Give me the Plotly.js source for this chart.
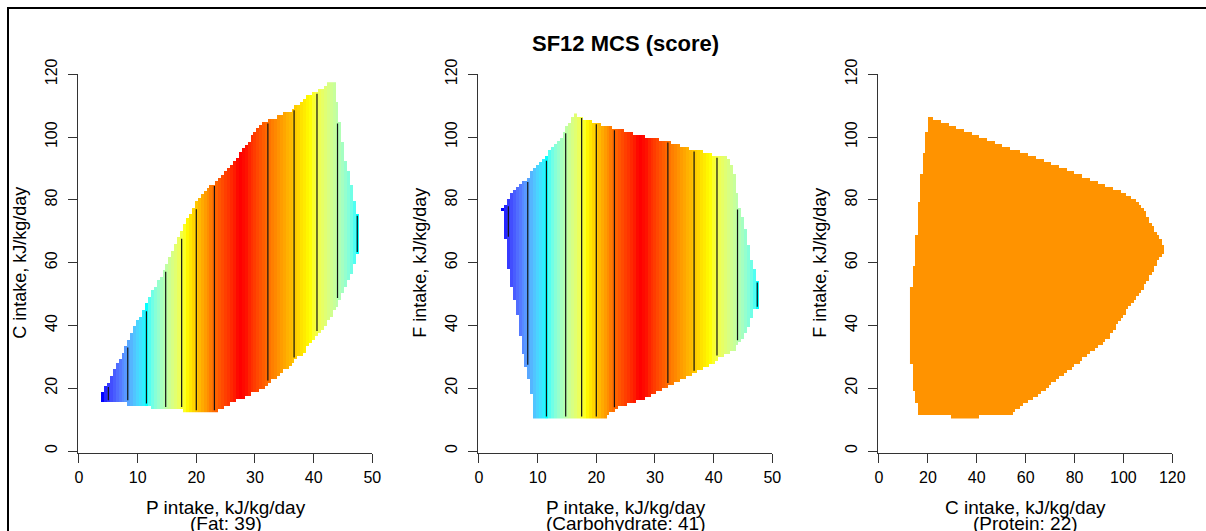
<!DOCTYPE html>
<html><head><meta charset="utf-8">
<script src="https://cdn.plot.ly/plotly-3.0.1.min.js"></script>
<style>html,body{margin:0;padding:0;background:#fff;} #chart{width:1206px;height:531px;}</style>
</head><body><div id="chart"></div>
<script>
// ================= DATA =================
const chartTitle = "SF12 MCS (score)";
const xTitles = ["P intake, kJ/kg/day", "P intake, kJ/kg/day", "C intake, kJ/kg/day"];
const xSubTitles = ["(Fat: 39)", "(Carbohydrate: 41)", "(Protein: 22)"];
const yTitles = ["C intake, kJ/kg/day", "F intake, kJ/kg/day", "F intake, kJ/kg/day"];
const xTicksP = [0, 10, 20, 30, 40, 50];
const xTicksC = [0, 20, 40, 60, 80, 100, 120];
const yTicks = [0, 20, 40, 60, 80, 100, 120];

// fitted SF12 MCS along the protein grid P = 4.0, 4.5, ... 47.5 (surface varies with P only)
const pGridStart = 4.0, pGridStep = 0.5;
const mcsByP = [46.85,46.92,47.00,47.08,47.15,47.23,47.30,47.38,47.45,47.53,
  47.61,47.69,47.77,47.84,47.92,48.00,48.08,48.15,48.23,48.30,
  48.38,48.45,48.54,48.63,48.72,48.81,48.91,49.00,49.10,49.20,
  49.30,49.40,49.50,49.58,49.67,49.75,49.83,49.92,49.99,50.05,
  50.10,50.14,50.18,50.21,50.24,50.26,50.28,50.29,50.28,50.27,
  50.25,50.22,50.19,50.15,50.11,50.07,50.02,49.97,49.91,49.86,
  49.80,49.74,49.69,49.63,49.58,49.52,49.46,49.40,49.33,49.27,
  49.20,49.14,49.08,49.01,48.94,48.87,48.80,48.73,48.66,48.59,
  48.51,48.44,48.37,48.29,48.22,48.15,48.07,47.99];
// third panel (protein fixed at 22): flat surface
const mcsProtein22 = 49.80;
const contourLevels = [47.0, 47.5, 48.0, 48.5, 49.0, 49.5, 50.0];

// grids of the other axes
const cGridStart = 13.0, cGridStep = 1.05, cGridN = 100;   // C, panel 1 (y)
const fGridStart = 11.0, fGridStep = 0.97, fGridN = 100;   // F, panels 2 & 3 (y)
const c3GridStart = 13.2, c3GridStep = 1.05, c3GridN = 100; // C, panel 3 (x)

// outline of the observed intake region in each panel
const hull1P = [3.7, 8.25, 12.25, 17.75, 23.4, 25.7, 28.5, 31.1, 34.8, 37.9, 41.1, 43.9, 45.6, 46.9, 47.8,
  47.8, 47.2, 46.3, 45.6, 44.3, 43.5, 43.0, 39.4, 36.0, 32.0, 30.6, 26.3, 23.5, 20.6, 18.4, 14.9, 11.5, 8.0, 3.7];
const hull1C = [15.7, 15.1, 14.05, 13.0, 12.4, 15.0, 17.6, 19.6, 25.3, 30.6, 37.5, 46.0, 52.3, 59.2, 65.0,
  73.0, 77.3, 86.8, 91.6, 107.0, 117.5, 117.5, 113.6, 108.3, 105.2, 103.0, 92.0, 86.2, 81.3, 74.0, 59.0, 47.5, 33.3, 17.6];

const hull2P = [9.6, 21.4, 22.3, 23.7, 25.7, 28.3, 30.6, 32.6, 34.7, 37.7, 39.9, 41.9, 43.5, 45.1, 46.2, 46.9, 47.8,
  47.8, 47.2, 46.5, 45.9, 45.2, 44.2, 43.5, 42.8, 42.2, 40.2, 37.8, 35.2, 33.4, 30.9, 28.3, 25.7, 23.7, 21.2, 18.9,
  17.2, 16.5, 15.8, 14.9, 13.8, 12.6, 11.5, 10.4, 9.1, 8.3, 6.9, 6.1, 5.5, 4.8, 3.7, 3.7, 4.25, 4.3, 4.8, 5.0,
  5.5, 6.1, 6.7, 7.1, 7.6, 8.4, 9.1, 9.1];
const hull2F = [10.6, 10.6, 12.1, 13.7, 15.3, 16.9, 19.0, 21.1, 23.3, 25.9, 28.0, 30.7, 32.3, 36.0, 40.2, 45.0, 46.3,
  52.3, 56.6, 60.8, 66.7, 73.0, 79.4, 88.4, 91.6, 93.9, 94.2, 95.5, 96.6, 98.0, 99.2, 100.1, 101.6, 102.8, 104.0, 105.3,
  106.7, 107.2, 106.0, 102.8, 99.6, 97.4, 94.3, 92.1, 89.5, 86.8, 85.2, 83.6, 82.0, 79.4, 77.3, 76.6, 76.5, 70.5, 64.1, 58.3,
  52.4, 47.7, 41.3, 35.5, 30.1, 23.8, 17.4, 11.6];

const hull3C = [20.2, 100.0, 103.8, 108.2, 110.5, 113.7, 117.2, 114.3, 110.6, 106.3, 101.3, 97.9, 93.8, 87.4, 79.8,
  72.7, 65.2, 59.1, 53.6, 41.3, 41.0, 30.0, 29.7, 16.1, 15.4, 14.1, 12.7, 12.7, 14.1, 15.2, 16.1, 17.2, 18.6, 20.2];
const hull3F = [106.6, 82.5, 80.5, 77.0, 73.5, 69.0, 64.5, 61.0, 55.5, 49.5, 45.0, 41.0, 35.8, 32.0, 27.2,
  22.8, 18.0, 14.8, 11.6, 11.5, 10.6, 10.6, 11.5, 11.6, 15.0, 19.4, 33.2, 48.6, 58.0, 67.6, 77.2, 86.8, 96.4, 106.6];

// ================= helpers =================
function inside(x, y, px, py) {
  let c = false;
  for (let i = 0, j = px.length - 1; i < px.length; j = i++) {
    if (((py[i] > y) !== (py[j] > y)) && (x < (px[j] - px[i]) * (y - py[i]) / (py[j] - py[i]) + px[i])) c = !c;
  }
  return c;
}
function buildGrid(nx, x0, dx, ny, y0, dy, colVal, hx, hy) {
  const z = [];
  for (let j = 0; j < ny; j++) {
    const row = [];
    const y = y0 + j * dy;
    for (let i = 0; i < nx; i++) {
      const x = x0 + i * dx;
      row.push(inside(x, y, hx, hy) ? colVal(i) : null);
    }
    z.push(row);
  }
  return z;
}
// colour ramp blue-cyan-yellow-red interpolated in CIE Lab (as R colorRampPalette(space="Lab"))
function s2l(c) { return c <= 0.04045 ? c / 12.92 : Math.pow((c + 0.055) / 1.055, 2.4); }
function l2s(c) { return c <= 0.0031308 ? 12.92 * c : 1.055 * Math.pow(c, 1 / 2.4) - 0.055; }
const WP = [0.95047, 1.0, 1.08883];
function rgb2lab(rgb) {
  const [r, g, b] = rgb.map(s2l);
  const X = 0.4124 * r + 0.3576 * g + 0.1805 * b, Y = 0.2126 * r + 0.7152 * g + 0.0722 * b, Z = 0.0193 * r + 0.1192 * g + 0.9505 * b;
  const f = t => t > 0.008856 ? Math.cbrt(t) : 7.787 * t + 16 / 116;
  const fx = f(X / WP[0]), fy = f(Y / WP[1]), fz = f(Z / WP[2]);
  return [116 * fy - 16, 500 * (fx - fy), 200 * (fy - fz)];
}
function lab2rgb(lab) {
  const fy = (lab[0] + 16) / 116, fx = fy + lab[1] / 500, fz = fy - lab[2] / 200;
  const fi = t => t > 0.206893 ? t * t * t : (t - 16 / 116) / 7.787;
  const X = WP[0] * fi(fx), Y = WP[1] * fi(fy), Z = WP[2] * fi(fz);
  const r = 3.2406 * X - 1.5372 * Y - 0.4986 * Z, g = -0.9689 * X + 1.8758 * Y + 0.0415 * Z, b = 0.0557 * X - 0.2040 * Y + 1.0570 * Z;
  return [r, g, b].map(v => Math.round(255 * Math.min(1, Math.max(0, l2s(Math.min(1, Math.max(0, v)))))));
}
const anchors = [[0, 0, 1], [0, 1, 1], [1, 1, 0], [1, 0, 0]].map(rgb2lab);
const colorscale = [];
const NS = 90;
for (let k = 0; k <= NS; k++) {
  const t = k / NS, seg = Math.min(2, Math.floor(t * 3)), u = t * 3 - seg;
  const a = anchors[seg], b = anchors[seg + 1];
  const c = lab2rgb([0, 1, 2].map(q => a[q] + (b[q] - a[q]) * u));
  colorscale.push([t, `rgb(${c[0]},${c[1]},${c[2]})`]);
}
const zmin = Math.min(...mcsByP), zmax = Math.max(...mcsByP);

// grids
const nP = mcsByP.length;
const z1 = buildGrid(nP, pGridStart, pGridStep, cGridN, cGridStart, cGridStep, i => mcsByP[i], hull1P, hull1C);
const z2 = buildGrid(nP, pGridStart, pGridStep, fGridN, fGridStart, fGridStep, i => mcsByP[i], hull2P, hull2F);
const z3 = buildGrid(c3GridN, c3GridStart, c3GridStep, fGridN, fGridStart, fGridStep, () => mcsProtein22, hull3C, hull3F);

// contour segments (vertical, as the surface varies with P only)
function contourLines(z, y0, dy) {
  const ny = z.length, xs = [], ys = [];
  const colRange = i => {
    let lo = null, hi = null;
    for (let j = 0; j < ny; j++) if (z[j][i] !== null) { if (lo === null) lo = j; hi = j; }
    return [lo, hi];
  };
  contourLevels.forEach(L => {
    for (let i = 0; i < nP - 1; i++) {
      const a = mcsByP[i], b = mcsByP[i + 1];
      const up = a < L && b >= L, down = a >= L && b < L;
      if (!(up || down)) continue;
      const x = pGridStart + (i + (L - a) / (b - a)) * pGridStep;
      const r1 = colRange(i), r2 = colRange(i + 1);
      if (r1[0] === null || r2[0] === null) continue;
      const lo = Math.max(r1[0], r2[0]), hi = Math.min(r1[1], r2[1]);
      if (hi < lo) continue;
      xs.push(x, x, null); ys.push(y0 + lo * dy, y0 + hi * dy, null);
    }
  });
  return {xs, ys};
}
const cl1 = contourLines(z1, cGridStart, cGridStep);
const cl2 = contourLines(z2, fGridStart, fGridStep);

const FONT = "Liberation Sans, Arial, Helvetica, sans-serif";
const hm = (z, x0, dx, y0, dy, xa, ya) => ({
  type: 'heatmap', z, x0, dx, y0, dy, xaxis: xa, yaxis: ya, colorscale, zmin, zmax,
  showscale: false, zsmooth: false, hoverinfo: 'skip'
});
const ln = (c, xa, ya) => ({
  type: 'scatter', mode: 'lines', x: c.xs, y: c.ys, xaxis: xa, yaxis: ya,
  line: {color: '#111', width: 1.2}, hoverinfo: 'skip', showlegend: false
});
const data = [
  hm(z1, pGridStart, pGridStep, cGridStart, cGridStep, 'x', 'y'),
  ln(cl1, 'x', 'y'),
  hm(z2, pGridStart, pGridStep, fGridStart, fGridStep, 'x2', 'y2'),
  ln(cl2, 'x2', 'y2'),
  hm(z3, c3GridStart, c3GridStep, fGridStart, fGridStep, 'x3', 'y3')
];

const W = 1206, H = 531;
const axBase = {
  showline: true, linecolor: '#333', linewidth: 1, ticks: 'outside', ticklen: 9, tickwidth: 1, tickcolor: '#333',
  showgrid: false, zeroline: false, tickfont: {family: FONT, size: 16, color: '#000'}, fixedrange: true
};
const xax = (dom, range, tv, anchor) => Object.assign({}, axBase, {domain: dom, range, tickmode: 'array', tickvals: tv, anchor, ticklabelstandoff: 0});
const yax = (anchor) => Object.assign({}, axBase, {domain: [0.146234, 0.860075], range: [-0.75, 120], tickmode: 'array', tickvals: yTicks, tickangle: -90, anchor, ticklabelstandoff: 4});

const xCentres = [225.65, 625.65, 1025.65];
const yTitleX = [20, 420, 820];
const annotations = [];
for (let p = 0; p < 3; p++) {
  annotations.push({xref: 'paper', yref: 'paper', x: xCentres[p] / W, y: 1 - 507 / H, text: xTitles[p], showarrow: false,
    xanchor: 'center', yanchor: 'middle', font: {family: FONT, size: 19, color: '#000'}});
  annotations.push({xref: 'paper', yref: 'paper', x: xCentres[p] / W, y: 1 - 523 / H, text: xSubTitles[p], showarrow: false,
    xanchor: 'center', yanchor: 'middle', font: {family: FONT, size: 19, color: '#000'}});
  annotations.push({xref: 'paper', yref: 'paper', x: yTitleX[p] / W, y: 1 - 262.7 / H, text: yTitles[p], showarrow: false,
    textangle: -90, xanchor: 'center', yanchor: 'middle', font: {family: FONT, size: 18, color: '#000'}});
}
annotations.push({xref: 'paper', yref: 'paper', x: 625 / W, y: 1 - 44 / H, text: '<b>' + chartTitle + '</b>', showarrow: false,
  xanchor: 'center', yanchor: 'middle', font: {family: FONT, size: 22, color: '#000'}});

const layout = {
  width: W, height: H, margin: {l: 0, r: 0, t: 0, b: 0}, paper_bgcolor: '#fff', plot_bgcolor: 'rgba(0,0,0,0)',
  showlegend: false,
  xaxis: xax([0.064386, 0.308706], [-0.23, 50], xTicksP, 'y'),
  xaxis2: xax([0.396061, 0.640381], [-0.23, 50], xTicksP, 'y2'),
  xaxis3: xax([0.727736, 0.972056], [-0.55, 120], xTicksC, 'y3'),
  yaxis: yax('x'), yaxis2: yax('x2'), yaxis3: yax('x3'),
  annotations,
  shapes: [{type: 'rect', xref: 'paper', yref: 'paper', x0: 8 / W, x1: 1.05, y0: -0.05, y1: 1 - 8 / H,
    line: {color: '#000', width: 2}, fillcolor: 'rgba(0,0,0,0)', layer: 'above'}]
};
Plotly.newPlot('chart', data, layout, {staticPlot: true, displayModeBar: false});
</script>
</body></html>
